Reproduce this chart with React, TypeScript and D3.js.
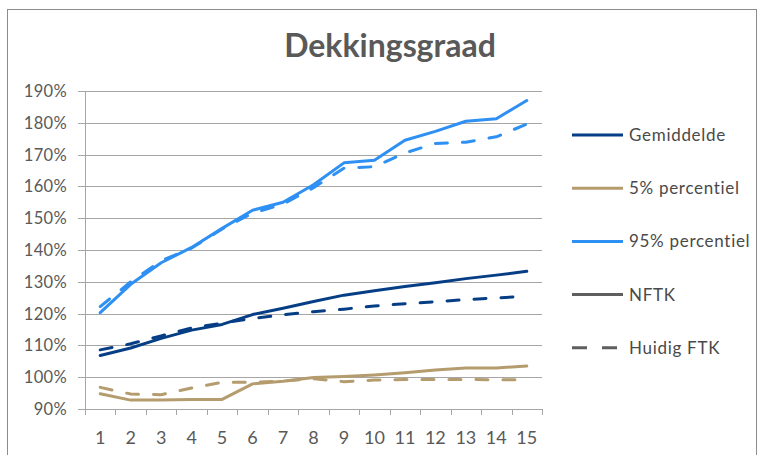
import { useEffect, useRef } from 'react';
import * as d3 from 'd3';

const years = d3.range(1, 16).map(String);
const yTicks = [0.9, 1.0, 1.1, 1.2, 1.3, 1.4, 1.5, 1.6, 1.7, 1.8, 1.9];

// NFTK (solid)
const gemNftk = [106.8, 109.2, 112.2, 114.8, 116.6, 119.7, 121.7, 123.8, 125.8, 127.2, 128.5, 129.7, 131.0, 132.1, 133.3];
const p5Nftk = [94.8, 92.8, 92.8, 93.0, 93.0, 97.9, 98.7, 99.9, 100.2, 100.7, 101.4, 102.3, 102.9, 102.9, 103.5];
const p95Nftk = [120.3, 129.2, 136.0, 140.8, 146.8, 152.5, 155.0, 160.5, 167.4, 168.2, 174.5, 177.3, 180.5, 181.3, 187.0];

// Huidig FTK (dashed)
const gemFtk = [108.6, 110.5, 113.0, 115.5, 117.0, 118.5, 119.6, 120.6, 121.4, 122.4, 123.1, 123.7, 124.4, 124.9, 125.5];
const p5Ftk = [96.8, 94.7, 94.5, 96.6, 98.4, 98.4, 98.8, 99.5, 98.6, 99.1, 99.3, 99.3, 99.3, 99.2, 99.2];
const p95Ftk = [122.2, 130.0, 136.6, 140.6, 146.6, 151.6, 154.4, 159.6, 165.7, 166.2, 170.5, 173.5, 173.9, 175.6, 179.6];

const colors = { gem: '#063E86', p5: '#B49C6E', p95: '#2E90F2', ref: '#5F5F5F' };

const series = [
  { values: gemNftk, color: colors.gem, dashed: false },
  { values: p5Nftk, color: colors.p5, dashed: false },
  { values: p95Nftk, color: colors.p95, dashed: false },
  { values: gemFtk, color: colors.gem, dashed: true },
  { values: p5Ftk, color: colors.p5, dashed: true },
  { values: p95Ftk, color: colors.p95, dashed: true },
];

const legendItems = [
  { label: 'Gemiddelde', color: colors.gem, dashed: false },
  { label: '5% percentiel', color: colors.p5, dashed: false },
  { label: '95% percentiel', color: colors.p95, dashed: false },
  { label: 'NFTK', color: colors.ref, dashed: false },
  { label: 'Huidig FTK', color: colors.ref, dashed: true },
];

const FONT = 'Lato, "Open Sans", sans-serif';

export default function App() {
  const svgRef = useRef<SVGSVGElement>(null);
  const width = 764;
  const height = 455;

  useEffect(() => {
    if (!svgRef.current) return;
    const svg = d3.select(svgRef.current);
    svg.selectAll('*').remove();

    svg.append('rect').attr('width', width).attr('height', height).attr('fill', '#fff');

    // outer chart border
    svg
      .append('rect')
      .attr('x', 7.5)
      .attr('y', 9.5)
      .attr('width', 749)
      .attr('height', 460)
      .attr('fill', 'none')
      .attr('stroke', '#8C8C8C')
      .attr('stroke-width', 1);

    const plot = { left: 85, right: 542, top: 91, bottom: 409 };

    const x = d3.scaleBand().domain(years).range([plot.left, plot.right]);
    const y = d3.scaleLinear().domain([0.9, 1.9]).range([plot.bottom, plot.top]);

    svg
      .append('text')
      .attr('x', 390)
      .attr('y', 57)
      .attr('text-anchor', 'middle')
      .attr('font-family', FONT)
      .attr('font-weight', 700)
      .attr('font-size', 32)
      .attr('fill', '#595959')
      .text('Dekkingsgraad');

    // gridlines
    svg
      .append('g')
      .selectAll('line')
      .data(yTicks)
      .join('line')
      .attr('x1', plot.left - 7)
      .attr('x2', plot.right)
      .attr('y1', (d) => Math.round(y(d)) + 0.5)
      .attr('y2', (d) => Math.round(y(d)) + 0.5)
      .attr('stroke', '#A6A6A6')
      .attr('stroke-width', 1);

    // y axis line
    svg
      .append('line')
      .attr('x1', plot.left + 0.5)
      .attr('x2', plot.left + 0.5)
      .attr('y1', plot.top)
      .attr('y2', plot.bottom + 6)
      .attr('stroke', '#A6A6A6');

    // x ticks at band boundaries
    const bounds = years.map((d) => x(d) as number).concat([plot.right]);
    svg
      .append('g')
      .selectAll('line')
      .data(bounds)
      .join('line')
      .attr('x1', (d) => Math.round(d) + 0.5)
      .attr('x2', (d) => Math.round(d) + 0.5)
      .attr('y1', plot.bottom)
      .attr('y2', plot.bottom + 6)
      .attr('stroke', '#A6A6A6');

    // y labels
    svg
      .append('g')
      .selectAll('text')
      .data(yTicks)
      .join('text')
      .attr('x', 67)
      .attr('y', (d) => y(d) + 6)
      .attr('text-anchor', 'end')
      .attr('font-family', FONT)
      .attr('font-size', 16.5)
      .attr('letter-spacing', 0.3)
      .attr('fill', '#595959')
      .text((d) => `${Math.round(d * 100)}%`);

    // x labels
    svg
      .append('g')
      .selectAll('text')
      .data(years)
      .join('text')
      .attr('x', (d) => (x(d) as number) + x.bandwidth() / 2)
      .attr('y', 444)
      .attr('text-anchor', 'middle')
      .attr('font-family', FONT)
      .attr('font-size', 18)
      .attr('fill', '#595959')
      .text((d) => d);

    const line = d3
      .line<number>()
      .x((_, i) => (x(years[i]) as number) + x.bandwidth() / 2)
      .y((d) => y(d / 100));

    // draw dashed first, then solid on top
    const order = [...series.filter((s) => s.dashed), ...series.filter((s) => !s.dashed)];
    svg
      .append('g')
      .selectAll('path')
      .data(order)
      .join('path')
      .attr('d', (s) => line(s.values))
      .attr('fill', 'none')
      .attr('stroke', (s) => s.color)
      .attr('stroke-width', 3)
      .attr('stroke-linejoin', 'round')
      .attr('stroke-linecap', 'round')
      .attr('stroke-dasharray', (s) => (s.dashed ? '12 15' : null));

    // legend
    const legend = svg
      .append('g')
      .selectAll('g')
      .data(legendItems)
      .join('g')
      .attr('transform', (_, i) => `translate(572,${135 + i * 53.2})`);

    legend
      .append('line')
      .attr('x1', 0)
      .attr('x2', 51)
      .attr('y1', 0)
      .attr('y2', 0)
      .attr('stroke', (d) => d.color)
      .attr('stroke-width', 3)
      .attr('stroke-dasharray', (d) => (d.dashed ? '15 15' : null));

    legend
      .append('text')
      .attr('x', 57)
      .attr('y', 6)
      .attr('font-family', FONT)
      .attr('font-size', 17)
      .attr('letter-spacing', 0.7)
      .attr('fill', '#4A4A4A')
      .text((d) => d.label);
  }, []);

  return (
    <svg
      ref={svgRef}
      width={width}
      height={height}
      style={{ position: 'absolute', left: 0, top: 0 }}
    />
  );
}
